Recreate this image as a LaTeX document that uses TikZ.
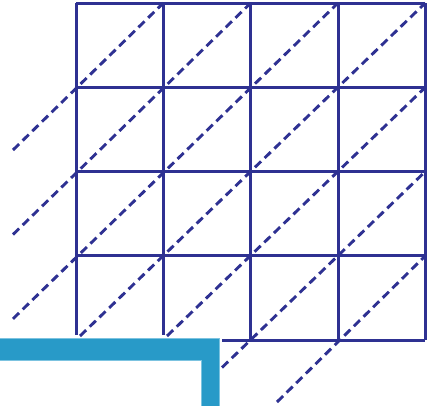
\documentclass[tikz,border=0pt]{standalone}
\definecolor{gridblue}{HTML}{2E3192}
\definecolor{barblue}{HTML}{289AC8}
\definecolor{baredge}{HTML}{7CC3E0}
\tikzset{
  gridline/.style={draw=gridblue, line width=3pt},
  diagline/.style={draw=gridblue, line width=2.9pt, dash pattern=on 8.5pt off 5pt},
  barshape/.style={fill=barblue, draw=baredge, line width=0.6pt}
}
\begin{document}
\begin{tikzpicture}[x=1pt,y=-1pt]
\useasboundingbox (0,0) rectangle (427,405);
% grid corner coordinates
\foreach \i/\xx in {0/76,1/163.3,2/250.7,3/338,4/425.3}{
  \foreach \j/\yy in {0/3,1/87.3,2/171.5,3/255.8,4/340}{
    \coordinate (c\i\j) at (\xx,\yy);
  }
}
% horizontal grid lines
\draw[gridline] (c00) -- (c40);
\draw[gridline] (c01) -- (c41);
\draw[gridline] (c02) -- (c42);
\draw[gridline] (c03) -- (c43);
\coordinate (b0) at (222,340);
\draw[gridline] (b0) -- (c44);
% vertical grid lines
\coordinate (v0) at (76,335);
\coordinate (v1) at (163.3,335);
\draw[gridline] (c00) -- (v0);
\draw[gridline] (c10) -- (v1);
\draw[gridline] (c20) -- (c24);
\draw[gridline] (c30) -- (c34);
\draw[gridline] (c40) -- (c44);
% dashed diagonals
\coordinate (d1s) at (13,150);
\coordinate (d2s) at (13,234.5);
\coordinate (d3s) at (13,318.8);
\coordinate (d4s) at (80,336);
\coordinate (d5s) at (167,336);
\coordinate (d6s) at (222,367.5);
\coordinate (d7s) at (277,402);
\draw[diagline] (d1s) -- (c10);
\draw[diagline] (d2s) -- (c20);
\draw[diagline] (d3s) -- (c30);
\draw[diagline] (d4s) -- (c40);
\draw[diagline] (d5s) -- (c41);
\draw[diagline] (d6s) -- (c42);
\draw[diagline] (d7s) -- (c43);
% blue L-shaped bar
\path[barshape] (-1,338.3) -- (219.3,338.3) -- (219.3,406) -- (201,406) -- (201,360) -- (-1,360) -- cycle;
\end{tikzpicture}
\end{document}
